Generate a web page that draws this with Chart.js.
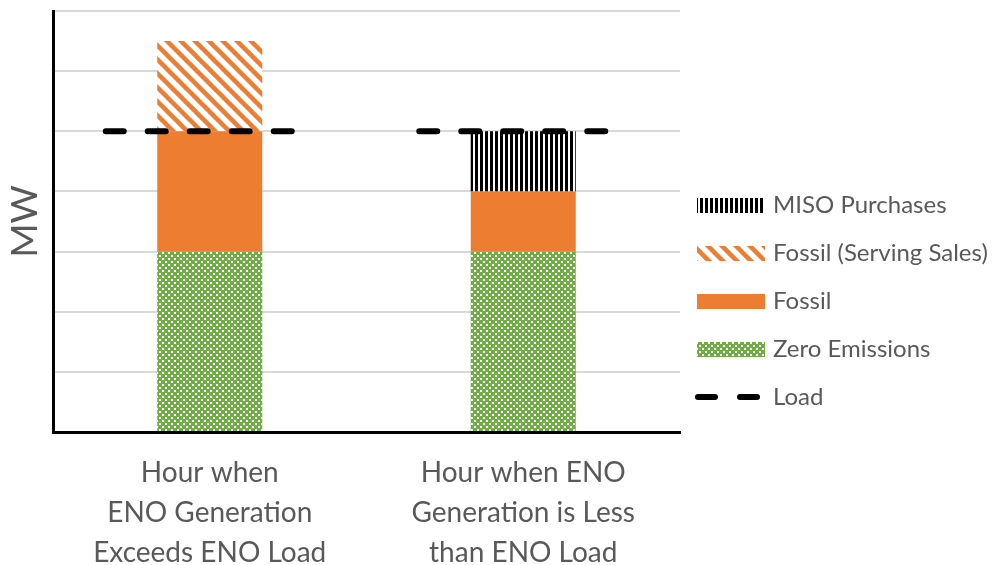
<!DOCTYPE html>
<html>
<head>
<meta charset="utf-8">
<script src="https://cdn.jsdelivr.net/npm/chart.js@4.4.0/dist/chart.umd.min.js"></script>
<style>
  body { margin: 0; background: #fff; }
  #wrap { width: 997px; height: 565px; }
</style>
</head>
<body>
<div id="wrap"><canvas id="chart" width="997" height="565"></canvas></div>
<script>
// chart data
const categories = [
  ["Hour when", "ENO Generation", "Exceeds ENO Load"],
  ["Hour when ENO", "Generation is Less", "than ENO Load"]
];
const zeroEmissions = [3, 3];
const fossil = [2, 1];
const fossilSales = [1.5, 0];
const misoPurchases = [0, 1];
const load = [5, 5];
const yMin = 0, yMax = 7, yStep = 1;

const GREY = "#595959";
const FONT = "Lato, 'Open Sans', sans-serif";

// small repeating fills like the excel patterns
function makePattern(w, h, draw){
  let c = document.createElement("canvas");
  c.width = w; c.height = h;
  let g = c.getContext("2d");
  draw(g, w, h);
  return g.createPattern(c, "repeat");
}

const greenChecker = makePattern(6, 6, function(g){
  g.fillStyle = "#70AD47";
  g.fillRect(0, 0, 6, 6);
  g.fillStyle = "#fff";
  g.fillRect(0, 0, 2, 2);
  g.fillRect(3, 3, 2, 2);
});

const orangeStripes = makePattern(14, 14, function(g){
  g.fillStyle = "#fff";
  g.fillRect(0, 0, 14, 14);
  g.strokeStyle = "#ED7D31";
  g.lineWidth = 4.5;
  for(let k = -1; k <= 1; k++){
    g.beginPath();
    g.moveTo(k * 14 - 2, -2);
    g.lineTo(k * 14 + 16, 16);
    g.stroke();
  }
});

const blackBars = makePattern(5, 5, function(g){
  g.fillStyle = "#fff";
  g.fillRect(0, 0, 5, 5);
  g.fillStyle = "#000";
  g.fillRect(0, 0, 3, 5);
});

// dashed load marks across each bar
const loadLine = {
  id: "loadLine",
  afterDatasetsDraw: function(chart){
    const ctx = chart.ctx;
    const x = chart.scales.x, y = chart.scales.y;
    ctx.save();
    ctx.strokeStyle = "#000";
    ctx.lineWidth = 6;
    ctx.lineCap = "round";
    ctx.setLineDash([18, 24]);
    for(let i = 0; i < load.length; i++){
      let cx = x.getPixelForValue(i) - 11;
      let py = y.getPixelForValue(load[i]);
      ctx.beginPath();
      ctx.moveTo(cx - 93, py);
      ctx.lineTo(cx + 93, py);
      ctx.stroke();
    }
    ctx.restore();
  }
};

// legend on the right, top item = top of stack
const sideLegend = {
  id: "sideLegend",
  afterDraw: function(chart){
    const ctx = chart.ctx;
    const sets = chart.data.datasets.slice().reverse();
    const x0 = 697, w = 68, h = 15, textX = 773;
    let rowY = 205;
    ctx.save();
    ctx.font = "24px " + FONT;
    ctx.textBaseline = "middle";
    sets.forEach(function(ds){
      ctx.fillStyle = ds.backgroundColor;
      ctx.fillRect(x0, Math.round(rowY - h / 2), w, h);
      ctx.fillStyle = GREY;
      ctx.fillText(ds.label, textX, rowY);
      rowY += 48;
    });
    ctx.strokeStyle = "#000";
    ctx.lineWidth = 6;
    ctx.lineCap = "round";
    ctx.setLineDash([17, 25]);
    ctx.beginPath();
    ctx.moveTo(x0 + 1, rowY);
    ctx.lineTo(x0 + 60, rowY);
    ctx.stroke();
    ctx.setLineDash([]);
    ctx.fillStyle = GREY;
    ctx.fillText("Load", textX, rowY);
    ctx.restore();
  }
};

new Chart(document.getElementById("chart"), {
  type: "bar",
  data: {
    labels: categories,
    datasets: [
      {label: "Zero Emissions", data: zeroEmissions, backgroundColor: greenChecker},
      {label: "Fossil", data: fossil, backgroundColor: "#ED7D31"},
      {label: "Fossil (Serving Sales)", data: fossilSales, backgroundColor: orangeStripes},
      {label: "MISO Purchases", data: misoPurchases, backgroundColor: blackBars}
    ]
  },
  options: {
    responsive: false,
    animation: false,
    layout: {padding: {top: 11, right: 317, left: 0, bottom: 0}},
    datasets: {bar: {categoryPercentage: 1, barPercentage: 0.335, borderWidth: 0}},
    plugins: {legend: {display: false}, tooltip: {enabled: false}},
    scales: {
      x: {
        stacked: true,
        grid: {display: true, drawOnChartArea: false, drawTicks: false, color: "rgba(0,0,0,0)"},
        border: {display: true, color: "#000", width: 3},
        ticks: {
          color: GREY, padding: 21, maxRotation: 0, autoSkip: false,
          font: {family: FONT, size: 28, lineHeight: "40px"}
        },
        afterFit: function(s){ s.height = 133; }
      },
      y: {
        stacked: true,
        min: yMin, max: yMax,
        ticks: {display: false, stepSize: yStep},
        grid: {color: "#D9D9D9", lineWidth: 2, drawTicks: false},
        border: {display: true, color: "#000", width: 3},
        title: {display: true, text: "MW", color: GREY, padding: {top: 3, bottom: 0},
                font: {family: FONT, size: 37}},
        afterFit: function(s){ s.width = 53; }
      }
    }
  },
  plugins: [loadLine, sideLegend]
});
</script>
</body>
</html>
